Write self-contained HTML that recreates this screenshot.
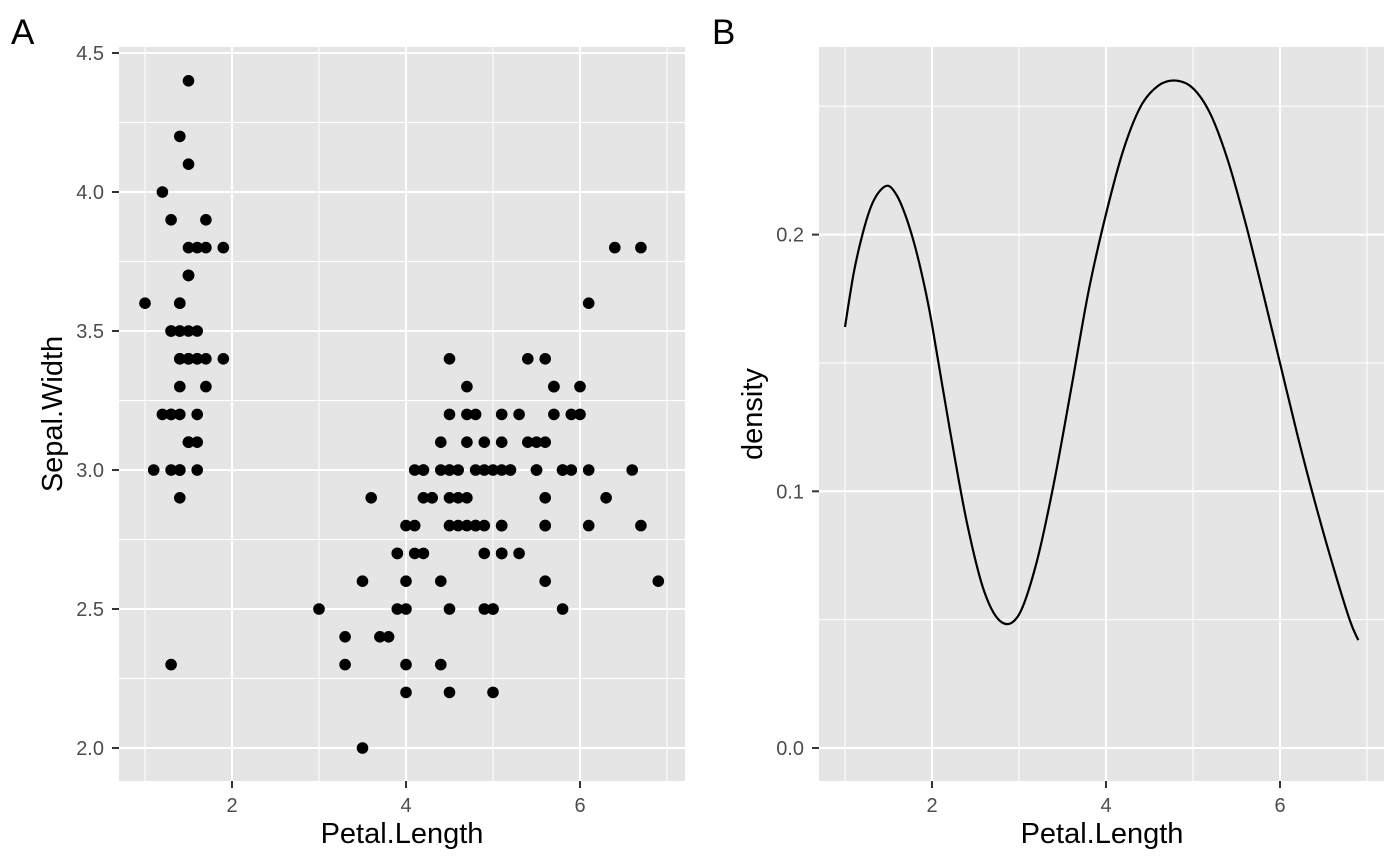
<!DOCTYPE html>
<html><head><meta charset="utf-8"><style>
body{margin:0;background:#fff;}
svg{display:block;font-family:"Liberation Sans",Arial,sans-serif;}
</style></head><body>
<svg id="c" width="1400" height="866"></svg>
<script>
const petalLength=[1.4,1.4,1.3,1.5,1.4,1.7,1.4,1.5,1.4,1.5,1.5,1.6,1.4,1.1,1.2,1.5,1.3,1.4,1.7,1.5,1.7,1.5,1.0,1.7,1.9,1.6,1.6,1.5,1.4,1.6,1.6,1.5,1.5,1.4,1.5,1.2,1.3,1.4,1.3,1.5,1.3,1.3,1.3,1.6,1.9,1.4,1.6,1.4,1.5,1.4,
4.7,4.5,4.9,4.0,4.6,4.5,4.7,3.3,4.6,3.9,3.5,4.2,4.0,4.7,3.6,4.4,4.5,4.1,4.5,3.9,4.8,4.0,4.9,4.7,4.3,4.4,4.8,5.0,4.5,3.5,3.8,3.7,3.9,5.1,4.5,4.5,4.7,4.4,4.1,4.0,4.4,4.6,4.0,3.3,4.2,4.2,4.2,4.3,3.0,4.1,
6.0,5.1,5.9,5.6,5.8,6.6,4.5,6.3,5.8,6.1,5.1,5.3,5.5,5.0,5.1,5.3,5.5,6.7,6.9,5.0,5.7,4.9,6.7,4.9,5.7,6.0,4.8,4.9,5.6,5.8,6.1,6.4,5.6,5.1,5.6,6.1,5.6,5.5,4.8,5.4,5.6,5.1,5.1,5.9,5.7,5.2,5.0,5.2,5.4,5.1];
const sepalWidth=[3.5,3.0,3.2,3.1,3.6,3.9,3.4,3.4,2.9,3.1,3.7,3.4,3.0,3.0,4.0,4.4,3.9,3.5,3.8,3.8,3.4,3.7,3.6,3.3,3.4,3.0,3.4,3.5,3.4,3.2,3.1,3.4,4.1,4.2,3.1,3.2,3.5,3.6,3.0,3.4,3.5,2.3,3.2,3.5,3.8,3.0,3.8,3.2,3.7,3.3,
3.2,3.2,3.1,2.3,2.8,2.8,3.3,2.4,2.9,2.7,2.0,3.0,2.2,2.9,2.9,3.1,3.0,2.7,2.2,2.5,3.2,2.8,2.5,2.8,2.9,3.0,2.8,3.0,2.9,2.6,2.4,2.4,2.7,2.7,3.0,3.4,3.1,2.3,3.0,2.5,2.6,3.0,2.6,2.3,2.7,3.0,2.9,2.9,2.5,2.8,
3.3,2.7,3.0,2.9,3.0,3.0,2.5,2.9,2.5,3.6,3.2,2.7,3.0,2.5,2.8,3.2,3.0,3.8,2.6,2.2,3.2,2.8,2.8,2.7,3.3,3.2,2.8,3.0,2.8,3.0,2.8,3.8,2.8,2.8,2.6,3.0,3.4,3.1,3.0,3.1,3.1,3.1,2.7,3.2,3.3,3.0,2.5,3.0,3.4,3.0];
const densX=[1.0,1.1,1.2,1.3,1.4,1.5,1.6,1.7,1.8,1.9,2.0,2.2,2.4,2.6,2.8,3.0,3.2,3.4,3.6,3.8,4.0,4.2,4.4,4.6,4.8,5.0,5.2,5.4,5.6,5.8,6.0,6.2,6.4,6.6,6.8,6.9];
const densY=[0.164,0.185,0.200,0.211,0.217,0.219,0.215,0.207,0.196,0.182,0.165,0.125,0.088,0.061,0.049,0.052,0.072,0.103,0.140,0.178,0.208,0.233,0.250,0.258,0.260,0.257,0.247,0.229,0.205,0.178,0.150,0.122,0.096,0.072,0.050,0.042];
const xTicks=[2,4,6], xMinor=[1,3,5,7];
const yTicksA=[2.0,2.5,3.0,3.5,4.0,4.5], yMinorA=[2.25,2.75,3.25,3.75,4.25];
const yTicksB=[0.0,0.1,0.2], yMinorB=[0.05,0.15,0.25];

const NS="http://www.w3.org/2000/svg", svg=document.getElementById('c');
function el(t,a,p){const e=document.createElementNS(NS,t);for(const k in a)e.setAttribute(k,a[k]);(p||svg).appendChild(e);return e;}
const xA=v=>232+(v-2)*87, yA=v=>748-(v-2)*278;
const xB=v=>932+(v-2)*87, yB=v=>748-v*2567;

function panel(name,x0,x1,y0,y1,xs,ys,yT,yM,fmt){
  const g=el('g',{});
  
  
  const r=el('rect',{x:x0,y:y0,width:x1-x0,height:y1-y0,fill:'#e5e5e5'},g);
  
  
  xMinor.forEach(v=>{const X=xs(v);if(X>x0&&X<x1)el('line',{x1:X,x2:X,y1:y0,y2:y1,stroke:'#fff','stroke-width':1},g);});
  yM.forEach(v=>{const Y=ys(v);if(Y>y0&&Y<y1)el('line',{x1:x0,x2:x1,y1:Y,y2:Y,stroke:'#fff','stroke-width':1},g);});
  xTicks.forEach(v=>{const X=xs(v);el('line',{x1:X,x2:X,y1:y0,y2:y1,stroke:'#fff','stroke-width':2},g);
    el('line',{x1:X,x2:X,y1:y1,y2:y1+7,stroke:'#333','stroke-width':2},g);
    const t=el('text',{x:X,y:y1+31,'font-size':20,fill:'#4d4d4d','text-anchor':'middle'},g);t.textContent=v;
    
    });
  yT.forEach(v=>{const Y=ys(v);el('line',{x1:x0,x2:x1,y1:Y,y2:Y,stroke:'#fff','stroke-width':2},g);
    el('line',{x1:x0-7,x2:x0,y1:Y,y2:Y,stroke:'#333','stroke-width':2},g);
    const t=el('text',{x:x0-15,y:Y+7,'font-size':20,fill:'#4d4d4d','text-anchor':'end'},g);t.textContent=fmt(v);
    
    });
  return g;
}
const gA=panel('panel-a',119,685,47,781,xA,yA,yTicksA,yMinorA,v=>v.toFixed(1));
petalLength.forEach((v,i)=>{const c=el('circle',{cx:xA(v),cy:yA(sepalWidth[i]),r:5.8,fill:'#000'},gA);
  
  });
const gB=panel('panel-b',819,1384,47,781,xB,yB,yTicksB,yMinorB,v=>v.toFixed(1));
const P=densX.map((v,i)=>[xB(v),yB(densY[i])]);
let d='M'+P[0][0]+','+P[0][1];
for(let i=0;i<P.length-1;i++){const p0=P[Math.max(0,i-1)],p1=P[i],p2=P[i+1],p3=P[Math.min(P.length-1,i+2)];
  d+=` C${p1[0]+(p2[0]-p0[0])/6},${p1[1]+(p2[1]-p0[1])/6} ${p2[0]-(p3[0]-p1[0])/6},${p2[1]-(p3[1]-p1[1])/6} ${p2[0]},${p2[1]}`;}
const path=el('path',{d:d,fill:'none',stroke:'#000','stroke-width':2.2},gB);



function txt(name,s,x,y,size,extra){const t=el('text',Object.assign({x:x,y:y,'font-size':size,fill:'#000'},extra||{}));t.textContent=s;
  
  return t;}
txt('panel-a-tag','A',11,44,35);
txt('panel-b-tag','B',712,44,35);
txt('x-axis-title-a','Petal.Length',402,843,29,{'text-anchor':'middle'});
txt('x-axis-title-b','Petal.Length',1102,843,29,{'text-anchor':'middle'});
txt('y-axis-title-a','Sepal.Width',62,414,29,{'text-anchor':'middle',transform:'rotate(-90 62 414)'});
txt('y-axis-title-b','density',762,414,29,{'text-anchor':'middle',transform:'rotate(-90 762 414)'});
</script>
</body></html>
